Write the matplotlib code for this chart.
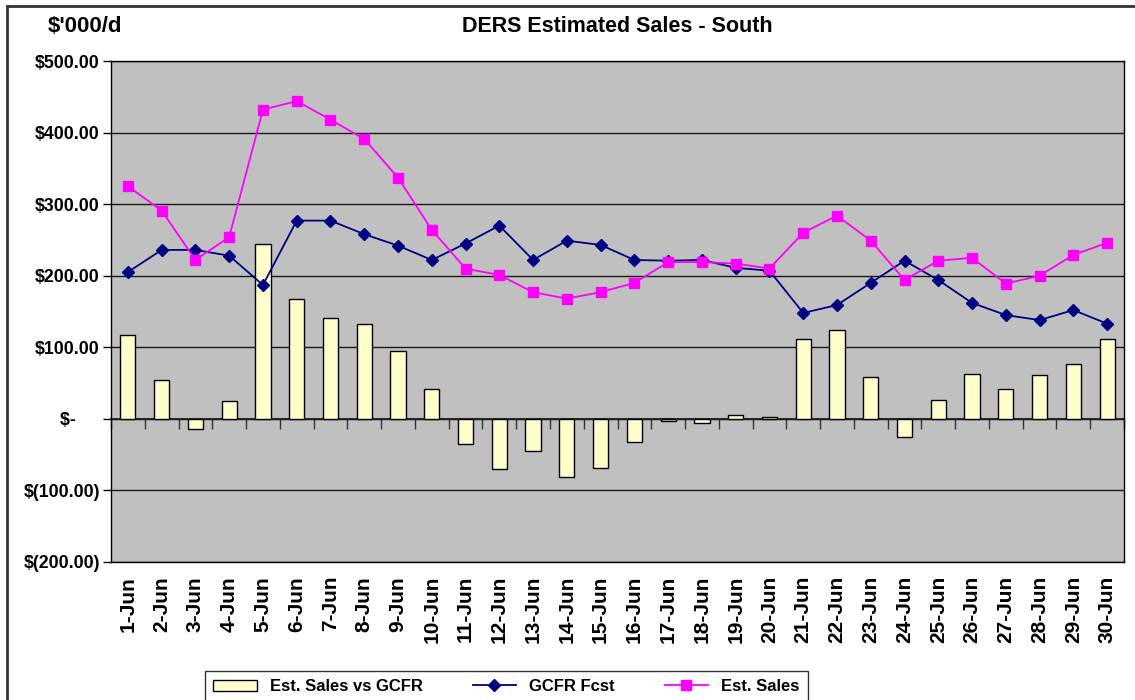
import matplotlib
matplotlib.use("Agg")
import matplotlib.pyplot as plt
from matplotlib.patches import Rectangle
import numpy as np

plt.rcParams["font.family"] = ["Liberation Sans", "DejaVu Sans"]
plt.rcParams["font.weight"] = "bold"

# data ($'000 per day)
days = [f"{d}-Jun" for d in range(1, 31)]
est_sales = [325, 291, 222, 254, 432, 444, 418, 391, 337, 264,
             210, 201, 177, 168, 177, 190, 219, 219, 217, 210,
             260, 284, 249, 194, 221, 225, 189, 200, 229, 246]
gcfr_fcst = [205, 236, 236, 228, 187, 277, 277, 258, 242, 222,
             245, 270, 222, 249, 243, 222, 221, 222, 211, 207,
             148, 159, 190, 221, 194, 162, 145, 138, 152, 133]
sales_vs_gcfr = [117, 54, -14, 25, 245, 167, 141, 133, 95, 42,
                 -35, -70, -45, -81, -68, -32, -3, -6, 6, 2,
                 111, 124, 59, -26, 27, 62, 42, 61, 77, 111]
y_ticks = [-200, -100, 0, 100, 200, 300, 400, 500]
# accounting format: the zero label keeps its trailing padding
y_labels = ["$(200.00)", "$(100.00)", "$-     ", "$100.00", "$200.00",
            "$300.00", "$400.00", "$500.00"]

W, H = 1135, 700
fig = plt.figure(figsize=(W / 100, H / 100), dpi=100)
fig.patch.set_facecolor("white")

# outer chart border
fig.patches.append(Rectangle((7 / W, -0.1), 1.2, 1.1 - 6 / H, transform=fig.transFigure,
                             fill=False, edgecolor="#333333", linewidth=2))

ax = fig.add_axes([111 / W, 1 - 562 / H, 1013 / W, 501 / H])
ax.set_facecolor("#C0C0C0")

x = np.arange(len(days))
bars = ax.bar(x, sales_vs_gcfr, width=0.45, color="#FFFFCC", edgecolor="black",
              linewidth=1, label="Est. Sales vs GCFR", zorder=3)
l1, = ax.plot(x, gcfr_fcst, color="#000080", marker="D", markersize=6, linewidth=1.3,
              label="GCFR Fcst", zorder=4)
l2, = ax.plot(x, est_sales, color="#FF00FF", marker="s", markersize=7, linewidth=1.3,
              label="Est. Sales", zorder=5)

ax.set_xlim(-0.5, len(days) - 0.5)
ax.set_ylim(-200, 500)
ax.set_yticks(y_ticks)
ax.set_yticklabels(y_labels, fontsize=12.8, fontweight="bold")
ax.tick_params(axis="y", direction="out", length=6, width=1, pad=2)
ax.yaxis.grid(True, color="#1a1a1a", linewidth=1)
ax.set_axisbelow(True)

ax.set_xticks(x)
ax.set_xticklabels(days, rotation=90, fontsize=15, fontweight="bold")
ax.tick_params(axis="x", length=0, pad=10)

for s in ax.spines.values():
    s.set_color("black")
    s.set_linewidth(1)

# category axis crossing at zero with tick marks between categories
sec = ax.secondary_xaxis(2 / 7)
sec.set_xticks(np.arange(len(days) + 1) - 0.5)
sec.set_xticklabels([])
sec.tick_params(direction="out", length=7, width=1, color="#333333")
sec.spines["bottom"].set_color("#333333")
sec.spines["bottom"].set_linewidth(1.5)

fig.text(617 / W, 1 - 26 / H, "DERS Estimated Sales - South", ha="center", va="center",
         fontsize=15.5, fontweight="bold")
fig.text(48 / W, 1 - 27 / H, "$'000/d", ha="left", va="center",
         fontsize=16, fontweight="bold")

leg = fig.legend([bars, l1, l2], ["Est. Sales vs GCFR", "GCFR Fcst", "Est. Sales"],
                 loc="upper left", bbox_to_anchor=(205 / W, 0, 603 / W, 1 - 671 / H),
                 mode="expand", ncol=3, borderaxespad=0, fancybox=False,
                 edgecolor="black", fontsize=12, handlelength=2.6, frameon=True,
                 borderpad=0.5)
leg.get_frame().set_linewidth(1)

fig.savefig("out.png", dpi=100)
